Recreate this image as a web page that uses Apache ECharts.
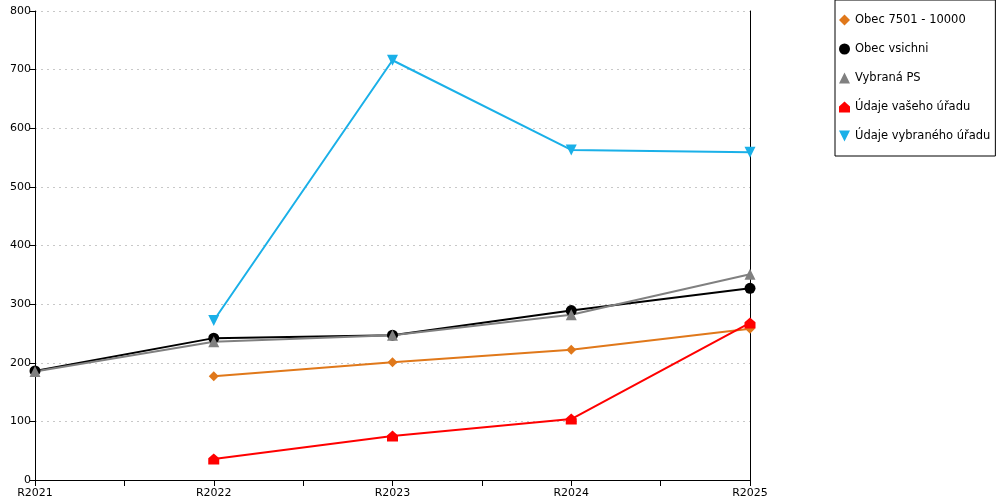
<!DOCTYPE html>
<html>
<head>
<meta charset="utf-8">
<script src="https://cdn.jsdelivr.net/npm/echarts@6/dist/echarts.min.js"></script>
<style>
html, body { margin: 0; padding: 0; background: #fff; }
#main { width: 1000px; height: 500px; }
</style>
</head>
<body>
<div id="main"></div>
<script>
var categories = ['R2021', 'R2022', 'R2023', 'R2024', 'R2025'];
var seriesNames = ['Obec 7501 - 10000', 'Obec vsichni', 'Vybraná PS', 'Údaje vašeho úřadu', 'Údaje vybraného úřadu'];
var obec7501 = [null, 177, 201, 222, 258];
var obecVsichni = [186, 242, 247, 289, 327];
var vybranaPS = [185, 236, 247, 282, 351];
var vasUrad = [null, 36, 75, 104, 268];
var vybranyUrad = [null, 272, 716, 563, 559];

var yTicks = [0, 100, 200, 300, 400, 500, 600, 700, 800];

// pair values with category index (x axis is numeric so we get half-step ticks)
function pts(arr) {
    var out = [];
    for (var i = 0; i < arr.length; i++) {
        if (arr[i] != null) out.push([i, arr[i]]);
    }
    return out;
}

var houseSymbol = 'path://M0,1 L0,0.45 L0.5,0 L1,0.45 L1,1 Z';
var downTriangle = 'path://M0,0 L1,0 L0.5,1 Z';
var symbols = ['diamond', 'circle', 'triangle', houseSymbol, downTriangle];
var colors = ['#e0781a', '#000000', '#808080', '#ff0000', '#1ab0e8'];
var allData = [obec7501, obecVsichni, vybranaPS, vasUrad, vybranyUrad];

var fontName = 'DejaVu Sans';

var legendData = [];
var series = [];
for (var i = 0; i < seriesNames.length; i++) {
    legendData.push({ name: seriesNames[i], icon: symbols[i] });
    series.push({
        name: seriesNames[i],
        type: 'line',
        symbol: symbols[i],
        symbolSize: i == 0 ? 10 : 11,
        color: colors[i],
        lineStyle: { width: 2 },
        data: pts(allData[i])
    });
}

var myChart = echarts.init(document.getElementById('main'));
var option = {
    animation: false,
    textStyle: { fontFamily: fontName },
    grid: {
        left: 35,
        right: 250,
        top: 11,
        bottom: 20
    },
    legend: {
        orient: 'vertical',
        left: 835,
        top: 0,
        padding: [14, 5, 14, 4],
        itemGap: 17,
        itemWidth: 11,
        itemHeight: 11,
        borderColor: '#000',
        borderWidth: 1,
        textStyle: { fontFamily: fontName, fontSize: 11.5, color: '#000' },
        data: legendData
    },
    xAxis: {
        type: 'value',
        min: 0,
        max: categories.length - 1,
        interval: 0.5,
        axisLine: { lineStyle: { color: '#000', width: 1 } },
        axisTick: { show: true, length: 6, lineStyle: { color: '#000' } },
        splitLine: { show: false },
        axisLabel: {
            color: '#000',
            fontSize: 11,
            margin: 8,
            formatter: function (v) {
                return (v % 1 === 0) ? categories[v] : '';
            }
        }
    },
    yAxis: [{
        type: 'value',
        min: yTicks[0],
        max: yTicks[yTicks.length - 1],
        interval: 100,
        axisLine: { show: true, lineStyle: { color: '#000', width: 1 } },
        axisTick: { show: true, length: 5, lineStyle: { color: '#000' } },
        axisLabel: { color: '#000', fontSize: 11, margin: 4 },
        splitLine: { show: true, lineStyle: { color: '#c8c8c8', type: [2, 4] } }
    }, {
        type: 'value',
        position: 'right',
        min: yTicks[0],
        max: yTicks[yTicks.length - 1],
        axisLine: { show: true, lineStyle: { color: '#000', width: 1 } },
        axisTick: { show: false },
        axisLabel: { show: false },
        splitLine: { show: false }
    }],
    series: series
};
myChart.setOption(option);
</script>
</body>
</html>
